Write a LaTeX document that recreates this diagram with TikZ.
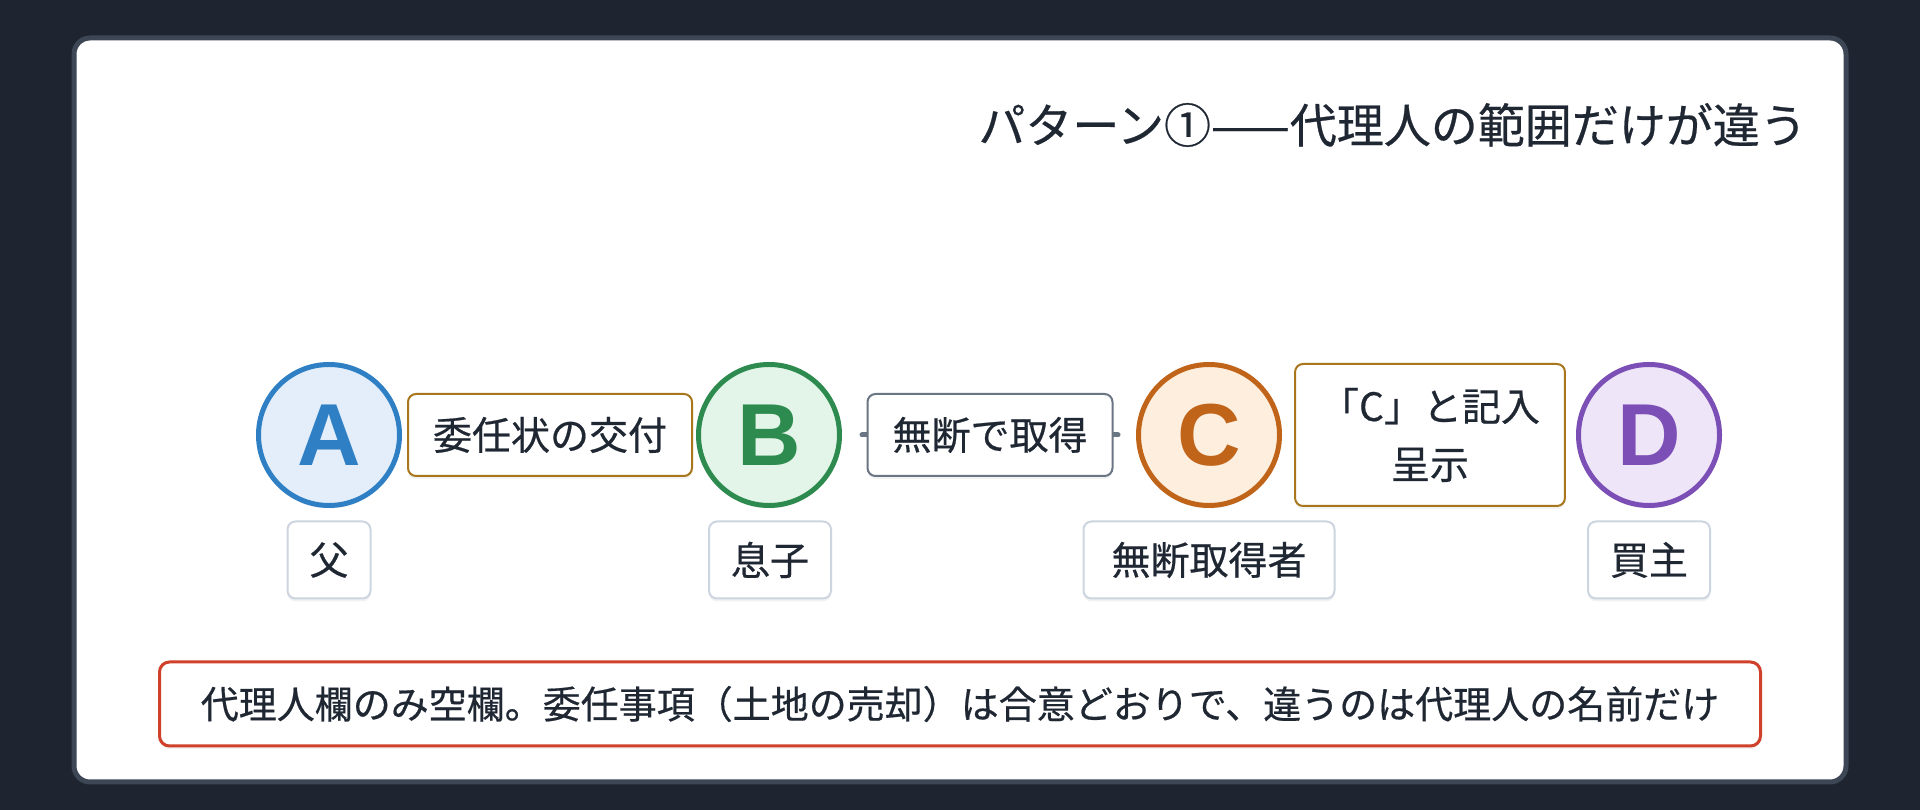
\documentclass[tikz,border=0pt]{standalone}
\usepackage{fontspec}
\setmainfont{Noto Sans CJK JP}[UprightFeatures = {FakeBold = 0.5}]
\newfontfamily\letterfont{Liberation Sans}
\usetikzlibrary{shadows}

\definecolor{pagebg}{HTML}{1E2530}
\definecolor{cardline}{HTML}{3D4654}
\definecolor{ink}{HTML}{1F2733}
\definecolor{gold}{HTML}{A8761C}
\definecolor{slate}{HTML}{6B7685}
\definecolor{rolegray}{HTML}{CDD5E0}
\definecolor{notered}{HTML}{D0412B}
\definecolor{ablue}{HTML}{2F7FC5}
\definecolor{ablueBG}{HTML}{E3EEFA}
\definecolor{bgreen}{HTML}{2E8B4F}
\definecolor{bgreenBG}{HTML}{E3F5E8}
\definecolor{corange}{HTML}{C0641A}
\definecolor{corangeBG}{HTML}{FDEEDD}
\definecolor{dpurple}{HTML}{7B4FB5}
\definecolor{dpurpleBG}{HTML}{EEE5F8}

\begin{document}
\begin{tikzpicture}[x = 1pt, y = 1pt,
	soft/.style = {drop shadow = {shadow xshift = 0pt, shadow yshift = -3pt, opacity = 0.10}},
	person/.style = {circle, soft, minimum size = 141pt, inner sep = 0pt, line width = 5pt,
		font = \letterfont\fontsize{88}{88}\selectfont\bfseries},
	act/.style = {draw, soft, fill = white, rounded corners = 8pt, line width = 2pt, text = ink,
		inner xsep = 25pt, inner ysep = 0pt, minimum height = 82pt, align = center,
		font = \fontsize{39}{58}\selectfont},
	role/.style = {draw = rolegray, soft, fill = white, rounded corners = 8pt, line width = 2pt, text = ink,
		inner xsep = 22pt, inner ysep = 0pt, minimum height = 77pt,
		font = \fontsize{39}{39}\selectfont}]

	\useasboundingbox[fill = pagebg] (0,0) rectangle (1920,810);
	\draw[draw = cardline, line width = 5pt, fill = white, rounded corners = 16pt] (74,28) rectangle (1846,772);

	% title
	\node[anchor = east, inner sep = 0pt, text = ink, font = \fontsize{47}{47}\selectfont] (title) at (1807,685) {パターン①——代理人の範囲だけが違う};

	% parties
	\node[person, draw = ablue, fill = ablueBG, text = ablue] (A) at (329,375) {A};
	\node[person, draw = bgreen, fill = bgreenBG, text = bgreen] (B) at (769,375) {B};
	\node[person, draw = corange, fill = corangeBG, text = corange] (C) at (1209,375) {C};
	\node[person, draw = dpurple, fill = dpurpleBG, text = dpurple] (D) at (1649,375) {D};

	\draw[slate, line width = 5pt, line cap = round, shorten <= 20pt, shorten >= 18pt] (B) -- (C);

	% what happens between them
	\node[act, draw = gold] (deliver) at (550,375) {委任状の交付};
	\node[act, draw = slate] (take) at (990,375) {無断で取得};
	\node[act, draw = gold, minimum height = 142pt] (fill) at (1430,375) {「C」と記入\\呈示};

	% roles
	\node[role] (rA) at (329,250) {父};
	\node[role] (rB) at (770,250) {息子};
	\node[role, inner xsep = 28pt] (rC) at (1209,250) {無断取得者};
	\node[role] (rD) at (1649,250) {買主};

	% note
	\node[draw = notered, soft, fill = white, rounded corners = 10pt, line width = 3pt, text = ink,
		minimum width = 1601pt, minimum height = 84pt, font = \fontsize{38}{38}\selectfont] (note) at (960,106)
		{代理人欄のみ空欄。委任事項（土地の売却）は合意どおりで、違うのは代理人の名前だけ};
\end{tikzpicture}
\end{document}
